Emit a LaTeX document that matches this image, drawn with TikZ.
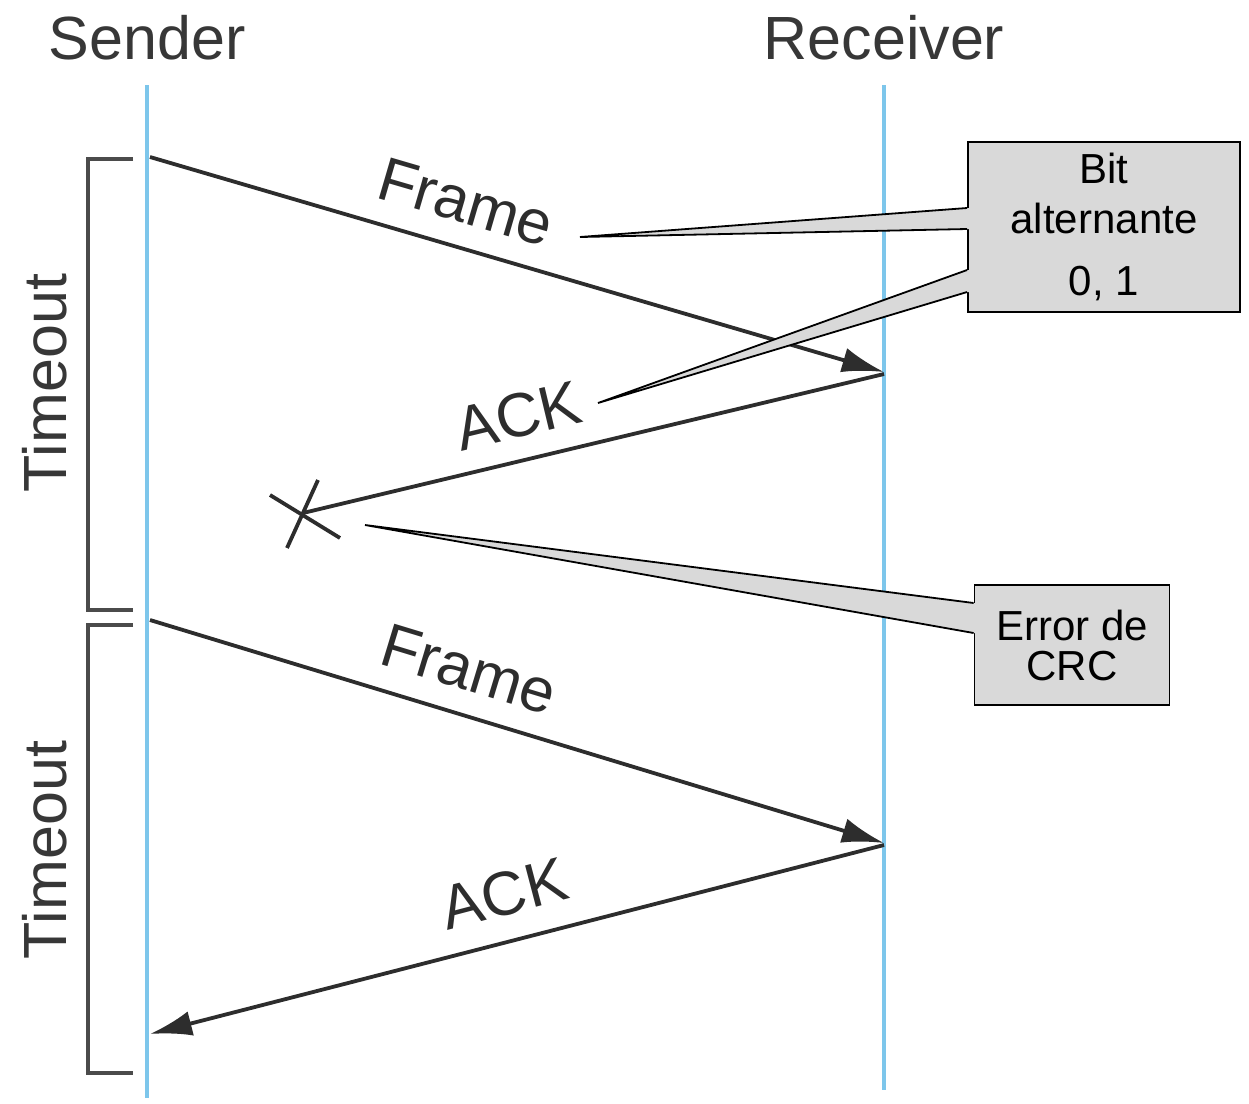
\documentclass[tikz,border=0pt]{standalone}
\usepackage{fontspec}
\setmainfont{Liberation Sans}
\usetikzlibrary{arrows.meta,calc}
\definecolor{lifeblue}{RGB}{125,198,235}
\definecolor{arrowgray}{RGB}{45,45,45}
\definecolor{brackgray}{RGB}{75,75,75}
\definecolor{txtgray}{RGB}{55,55,55}
\definecolor{boxfill}{RGB}{217,217,217}
\tikzset{
  lifeline/.style={draw=lifeblue, line width=3.5pt},
  msg/.style={draw=arrowgray, line width=3.8pt, -{Latex[length=42pt,width=25pt]}},
  lostmsg/.style={draw=arrowgray, line width=3.8pt},
  bracket/.style={draw=brackgray, line width=4.5pt},
  header/.style={text=txtgray, font=\fontsize{61}{70}\selectfont, inner sep=0pt},
  msglabel/.style={text=arrowgray, font=\fontsize{62}{70}\selectfont, inner sep=0pt},
  notebox/.style={draw=black, line width=1.8pt, fill=boxfill, align=center,
                  inner sep=0pt},
  wedgefill/.style={fill=boxfill},
  wedgeedge/.style={draw=black, line width=1.8pt, line join=miter},
}
\begin{document}
\begin{tikzpicture}[x=1pt,y=-1pt]
\useasboundingbox (0,0) rectangle (1249,1103);

% headers
\node[header] (hs) at (147,38) {Sender};
\node[header] (hr) at (884,38) {Receiver};

% lifelines
\coordinate (s0) at (147,85);
\coordinate (s1) at (147,1098);
\coordinate (r0) at (884,85);
\coordinate (r1) at (884,1090);
\draw[lifeline] (s0) -- (s1);
\draw[lifeline] (r0) -- (r1);

% timeout brackets
\coordinate (b1a) at (133,159);
\coordinate (b1b) at (88,159);
\coordinate (b1c) at (88,610);
\coordinate (b1d) at (133,610);
\coordinate (b2a) at (133,625);
\coordinate (b2b) at (88,625);
\coordinate (b2c) at (88,1073);
\coordinate (b2d) at (133,1073);
\draw[bracket] (b1a) -- (b1b) -- (b1c) -- (b1d);
\draw[bracket] (b2a) -- (b2b) -- (b2c) -- (b2d);
\node[header, rotate=90] (t1) at (45,383) {Timeout};
\node[header, rotate=90] (t2) at (45,850) {Timeout};

% message endpoints
\coordinate (sf1) at (150,157);
\coordinate (rf1) at (884,372);
\coordinate (ra1) at (884,374);
\coordinate (xc)  at (303,513);
\coordinate (sf2) at (150,620);
\coordinate (rf2) at (884,843);
\coordinate (ra2) at (884,845);
\coordinate (sa2) at (150,1034);

% messages
\draw[msg] (sf1) -- (rf1);
\draw[lostmsg] (ra1) -- (xc);
\draw[lostmsg] ($(xc)+(-33,-18)$) -- ($(xc)+(37,25)$);
\draw[lostmsg] ($(xc)+(15,-33)$) -- ($(xc)+(-16,35)$);
\draw[msg] (sf2) -- (rf2);
\draw[msg] (ra2) -- (sa2);

% labels
\node[msglabel, rotate=-16.3] (lf1) at (466,202) {Frame};
\node[msglabel, rotate=13.5] (la1) at (518,416) {ACK};
\node[msglabel, rotate=-16.9] (lf2) at (469,669) {Frame};
\node[msglabel, rotate=14.7] (la2) at (504,894) {ACK};

% callout boxes
\node[notebox, minimum width=272pt, minimum height=170pt,
      font=\fontsize{42}{50}\selectfont] (box1) at (1104,227)
  {Bit\\alternante\\[12pt]0, 1};
\node[notebox, minimum width=195pt, minimum height=120pt,
      font=\fontsize{42}{40}\selectfont] (box2) at (1072,645)
  {Error de\\CRC};

% callout pointers
\coordinate (p1a) at (box1.north west |- 0,208);
\coordinate (p1b) at (box1.north west |- 0,229);
\coordinate (p1t) at (580,237);
\coordinate (p2a) at (box1.north west |- 0,270);
\coordinate (p2b) at (box1.north west |- 0,292);
\coordinate (p2t) at (598,403);
\coordinate (p3a) at (box2.north west |- 0,603);
\coordinate (p3b) at (box2.north west |- 0,633);
\coordinate (p3t) at (365,525);

\fill[wedgefill] (p1t) -- (p1a) -- ($(p1a)+(3,0)$) -- ($(p1b)+(3,0)$) -- (p1b) -- cycle;
\fill[wedgefill] (p2t) -- (p2a) -- ($(p2a)+(3,0)$) -- ($(p2b)+(3,0)$) -- (p2b) -- cycle;
\fill[wedgefill] (p3t) -- (p3a) -- ($(p3a)+(3,0)$) -- ($(p3b)+(3,0)$) -- (p3b) -- cycle;
\draw[wedgeedge] (p1a) -- (p1t) -- (p1b);
\draw[wedgeedge] (p2a) -- (p2t) -- (p2b);
\draw[wedgeedge] (p3a) -- (p3t) -- (p3b);
\end{tikzpicture}
\end{document}
